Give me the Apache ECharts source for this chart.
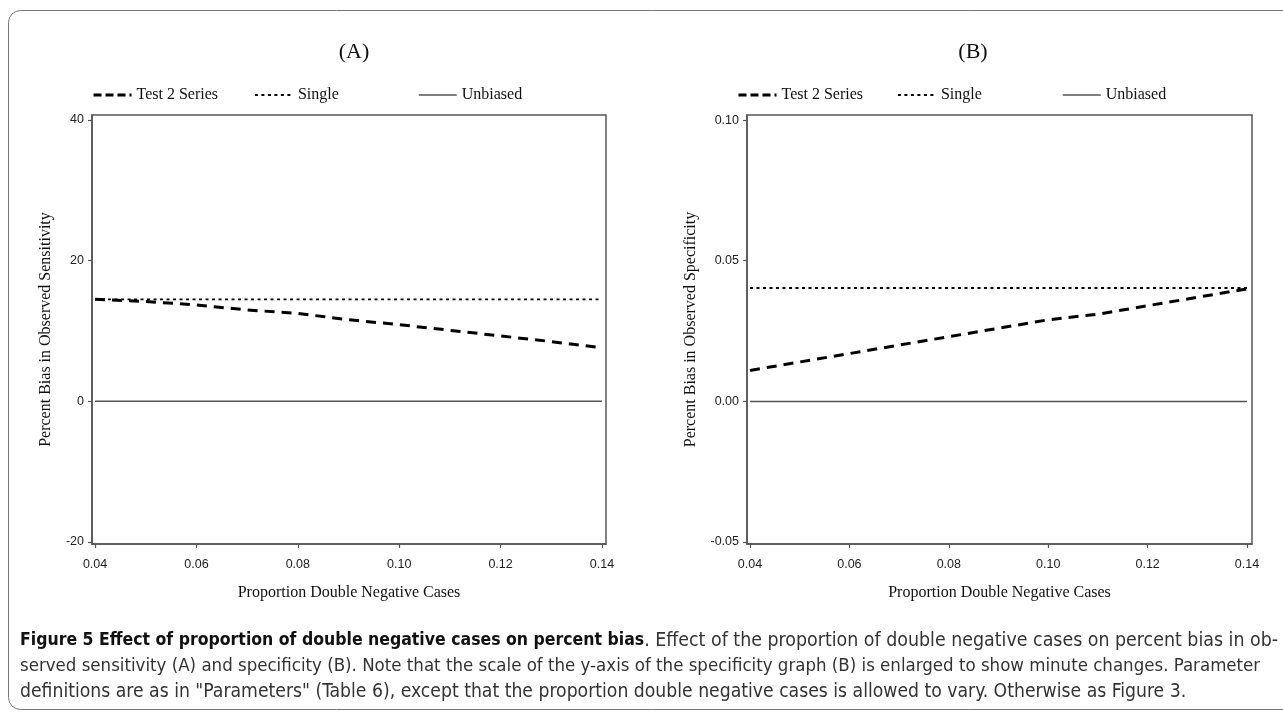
<!DOCTYPE html>
<html>
<head>
<meta charset="utf-8">
<script src="https://cdn.jsdelivr.net/npm/echarts@6/dist/echarts.min.js"></script>
<style>
  html, body { margin: 0; padding: 0; background: #fff; }
  #chart { width: 1283px; height: 713px; }
</style>
</head>
<body>
<div id="chart"></div>
<script>
// proportion of double negative cases (x)
var propDN = [0.04, 0.05, 0.06, 0.07, 0.08, 0.09, 0.10, 0.11, 0.12, 0.13, 0.14];

// (A) percent bias in observed sensitivity
var sensTest2 = [14.5, 14.2, 13.7, 13.0, 12.5, 11.6, 10.9, 10.1, 9.3, 8.5, 7.6];
var sensSingle = [14.5, 14.5, 14.5, 14.5, 14.5, 14.5, 14.5, 14.5, 14.5, 14.5, 14.5];
var sensUnbiased = [0, 0, 0, 0, 0, 0, 0, 0, 0, 0, 0];

// (B) percent bias in observed specificity
var specTest2 = [0.011, 0.014, 0.017, 0.020, 0.023, 0.026, 0.029, 0.031, 0.034, 0.037, 0.040];
var specSingle = [0.0403, 0.0403, 0.0403, 0.0403, 0.0403, 0.0403, 0.0403, 0.0403, 0.0403, 0.0403, 0.0403];
var specUnbiased = [0, 0, 0, 0, 0, 0, 0, 0, 0, 0, 0];

var xTicks = [0.04, 0.06, 0.08, 0.10, 0.12, 0.14];
var sensTicks = [-20, 0, 20, 40];
var specTicks = [-0.05, 0, 0.05, 0.10];

var seriesNames = ['Test 2 Series', 'Single', 'Unbiased'];

var serif = '"Liberation Serif", "Times New Roman", serif';
var sans = '"Liberation Sans", Arial, sans-serif';

function pairs(ys) {
  return propDN.map(function (x, i) { return [x, ys[i]]; });
}

var styles = {
  'Test 2 Series': { color: '#000', width: 3, type: [10, 7] },
  'Single': { color: '#000', width: 1.8, type: [3, 3.5] },
  'Unbiased': { color: '#555', width: 1.5, type: 'solid' }
};

function mkSeries(name, idx, ys) {
  var s = styles[name];
  return {
    name: name,
    type: 'line',
    xAxisIndex: idx,
    yAxisIndex: idx,
    data: pairs(ys),
    showSymbol: false,
    symbol: 'none',
    color: s.color,
    lineStyle: { color: s.color, width: s.width, type: s.type },
    z: name === 'Test 2 Series' ? 4 : 3
  };
}

function mkXAxis(idx, min, max) {
  return {
    type: 'value',
    gridIndex: idx,
    min: min,
    max: max,
    name: 'Proportion Double Negative Cases',
    nameLocation: 'middle',
    nameGap: 41,
    nameTextStyle: { fontFamily: serif, fontSize: 16, color: '#111' },
    axisLine: { show: true, onZero: false, lineStyle: { color: '#555', width: 1.5 } },
    axisTick: { show: true, length: 4, customValues: xTicks, lineStyle: { color: '#555', width: 1.2 } },
    axisLabel: {
      customValues: xTicks, margin: 14, fontFamily: sans, fontSize: 12.5, color: '#222',
      formatter: function (v) { return v.toFixed(2); }
    },
    splitLine: { show: false }
  };
}

function mkYAxis(idx, min, max, ticks, name, gap, digits) {
  return {
    type: 'value',
    gridIndex: idx,
    min: min,
    max: max,
    name: name,
    nameLocation: 'middle',
    nameGap: gap,
    nameTextStyle: { fontFamily: serif, fontSize: 16, color: '#111' },
    axisLine: { show: true, onZero: false, lineStyle: { color: '#555', width: 1.5 } },
    axisTick: { show: true, length: 4, customValues: ticks, lineStyle: { color: '#555', width: 1.2 } },
    axisLabel: {
      customValues: ticks, margin: 8, fontFamily: sans, fontSize: 12.5, color: '#222',
      formatter: function (v) { return digits ? v.toFixed(digits) : String(Math.round(v)); }
    },
    splitLine: { show: false }
  };
}

// legend item positions (icon left edge) for each panel
var legendLefts = [[92, 254, 418], [737, 897, 1062]];
var legends = [];
legendLefts.forEach(function (row) {
  row.forEach(function (left, i) {
    var name = seriesNames[i];
    var s = styles[name];
    legends.push({
      left: left,
      top: 87,
      padding: 0,
      itemWidth: 38,
      itemHeight: 14,
      itemGap: 0,
      itemTextGap: 5,
      selectedMode: false,
      textStyle: { fontFamily: serif, fontSize: 16, color: '#111' },
      data: [{
        name: name,
        itemStyle: { opacity: 0, color: 'rgba(0,0,0,0)', borderWidth: 0 },
        lineStyle: {
          color: s.color, width: s.width,
          type: name === 'Test 2 Series' ? [8, 4] : s.type
        }
      }]
    });
  });
});

var captionBold = 'Figure 5 Effect of proportion of double negative cases on percent bias';
var captionLines = [
  '. Effect of the proportion of double negative cases on percent bias in ob-',
  'served sensitivity (A) and specificity (B). Note that the scale of the y-axis of the specificity graph (B) is enlarged to show minute changes. Parameter',
  'definitions are as in "Parameters" (Table 6), except that the proportion double negative cases is allowed to vary. Otherwise as Figure 3.'
];
var capFont = '"DejaVu Sans Condensed", "Open Sans", sans-serif';

var chart = echarts.init(document.getElementById('chart'));
var option = {
  backgroundColor: '#fff',
  animation: false,
  title: [
    { text: '(A)', left: 349, top: 36, textAlign: 'center',
      textStyle: { fontFamily: serif, fontSize: 22, fontWeight: 'normal', color: '#111' } },
    { text: '(B)', left: 968, top: 36, textAlign: 'center',
      textStyle: { fontFamily: serif, fontSize: 22, fontWeight: 'normal', color: '#111' } }
  ],
  legend: legends,
  grid: [
    { left: 92, top: 115, width: 514, height: 429, show: true, borderColor: '#555', borderWidth: 1.5, backgroundColor: 'transparent' },
    { left: 747, top: 115, width: 505, height: 429, show: true, borderColor: '#555', borderWidth: 1.5, backgroundColor: 'transparent' }
  ],
  xAxis: [
    mkXAxis(0, 0.0394, 0.1408),
    mkXAxis(1, 0.0394, 0.1410)
  ],
  yAxis: [
    mkYAxis(0, -20.28, 40.71, sensTicks, 'Percent Bias in Observed Sensitivity', 38, 0),
    mkYAxis(1, -0.0507, 0.1018, specTicks, 'Percent Bias in Observed Specificity', 48, 2)
  ],
  series: [
    mkSeries('Unbiased', 0, sensUnbiased),
    mkSeries('Single', 0, sensSingle),
    mkSeries('Test 2 Series', 0, sensTest2),
    mkSeries('Unbiased', 1, specUnbiased),
    mkSeries('Single', 1, specSingle),
    mkSeries('Test 2 Series', 1, specTest2)
  ],
  graphic: [
    {
      type: 'rect', z: -10, silent: true,
      shape: { x: 8.5, y: 10.5, width: 1300, height: 699, r: 12 },
      style: { fill: 'none', stroke: '#777', lineWidth: 1 }
    },
    {
      type: 'text', left: 20, top: 631,
      style: {
        text: '{b|' + captionBold + '}' + captionLines[0],
        font: '19.4px ' + capFont, fill: '#333',
        rich: { b: { fontWeight: 'bold', fontFamily: capFont, fontSize: 17.5, fill: '#111' } }
      }
    },
    {
      type: 'text', left: 20, top: 657,
      style: { text: captionLines[1], font: '18.5px ' + capFont, fill: '#333' }
    },
    {
      type: 'text', left: 20, top: 683,
      style: { text: captionLines[2], font: '19.2px ' + capFont, fill: '#333' }
    }
  ]
};
chart.setOption(option);
</script>
</body>
</html>
